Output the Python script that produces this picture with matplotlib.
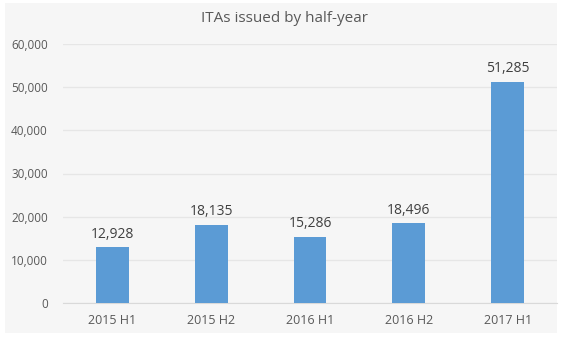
import matplotlib.pyplot as plt
from matplotlib.patches import Rectangle

periods = ["2015 H1", "2015 H2", "2016 H1", "2016 H2", "2017 H1"]
itas = [12928, 18135, 15286, 18496, 51285]
yticks = [0, 10000, 20000, 30000, 40000, 50000, 60000]

plt.rcParams['font.family'] = ['Open Sans', 'DejaVu Sans']

W, H = 569, 339
fig = plt.figure(figsize=(W / 100, H / 100), dpi=100, facecolor='white')
# grey chart area like the excel export
fig.patches.append(Rectangle((5 / W, 1 - 333 / H), 552 / W, 330 / H,
                             transform=fig.transFigure, facecolor='#f6f6f6',
                             edgecolor='none', zorder=-10))

ax = fig.add_axes([63 / W, 1 - 303 / H, 494 / W, 259 / H])
ax.set_facecolor('none')

x = range(len(periods))
ax.bar(x, itas, width=0.33, color='#5b9bd5', zorder=3)
for i, v in zip(x, itas):
    ax.text(i, v + 1300, f"{v:,}", ha='center', va='bottom',
            fontsize=10, color='#404040')

ax.set_xlim(-0.5, len(periods) - 0.5)
ax.set_ylim(0, 60000)
ax.set_yticks(yticks)
ax.set_yticklabels([f"{t:,}" for t in yticks])
ax.set_xticks(list(x))
ax.set_xticklabels(periods)
ax.tick_params(axis='both', length=0, labelsize=8.5, colors='#595959')
ax.tick_params(axis='x', labelsize=9)
ax.tick_params(axis='y', pad=11)
ax.tick_params(axis='x', pad=8)
ax.grid(axis='y', color='#e6e6e6', linewidth=0.9, zorder=0)
for s in ['top', 'right', 'left']:
    ax.spines[s].set_visible(False)
ax.spines['bottom'].set_color('#d9d9d9')

fig.text(0.5, 1 - 18 / H, "ITAs issued by half-year", ha='center', va='center',
         fontsize=11, color='#595959')

fig.savefig('out.png', dpi=100, facecolor='white')
